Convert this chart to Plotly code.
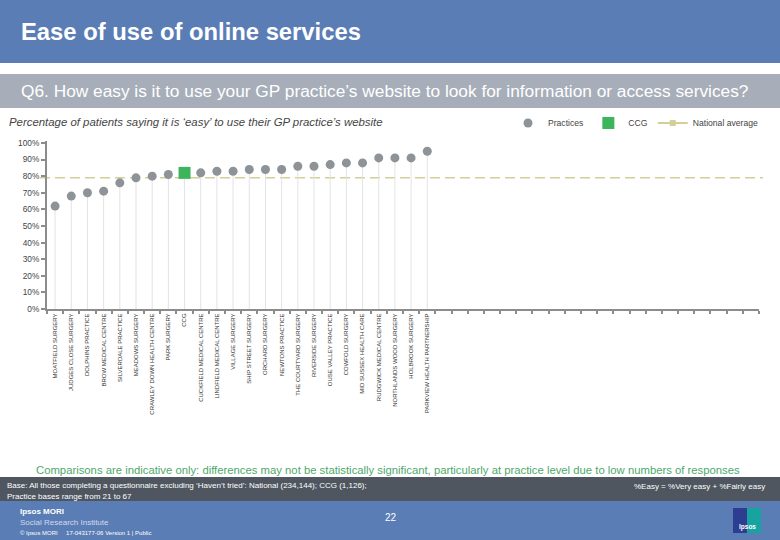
import plotly.graph_objects as go

# ---------------- data ----------------
categories = [
    "MOATFIELD SURGERY", "JUDGES CLOSE SURGERY", "DOLPHINS PRACTICE",
    "BROW MEDICAL CENTRE", "SILVERDALE PRACTICE", "MEADOWS SURGERY",
    "CRAWLEY DOWN HEALTH CENTRE", "PARK SURGERY", "CCG",
    "CUCKFIELD MEDICAL CENTRE", "LINDFIELD MEDICAL CENTRE", "VILLAGE SURGERY",
    "SHIP STREET SURGERY", "ORCHARD SURGERY", "NEWTONS PRACTICE",
    "THE COURTYARD SURGERY", "RIVERSIDE SURGERY", "OUSE VALLEY PRACTICE",
    "COWFOLD SURGERY", "MID SUSSEX HEALTH CARE", "RUDGWICK MEDICAL CENTRE",
    "NORTHLANDS WOOD SURGERY", "HOLBROOK SURGERY", "PARKVIEW HEALTH PARTNERSHIP",
]
values = [62, 68, 70, 71, 76, 79, 80, 81, 82, 82, 83, 83, 84, 84, 84,
          86, 86, 87, 88, 88, 91, 91, 91, 95]
ccg_label = "CCG"
national_average = 79
n_slots = 44  # slots on the category axis (incl. empty ones)
y_ticks = [0, 10, 20, 30, 40, 50, 60, 70, 80, 90, 100]

# ---------------- geometry helpers ----------------
W, H = 780, 540
L, R, T, B = 47, 21, 141, 231
PW, PH = W - L - R, H - T - B


def X(px):
    return (px - L) / PW


def Y(py):
    return (H - B - py) / PH


FONT = "Arial, Liberation Sans, sans-serif"

prac_idx = [i for i, c in enumerate(categories) if c != ccg_label]
ccg_idx = [i for i, c in enumerate(categories) if c == ccg_label]

fig = go.Figure()

fig.add_trace(go.Scatter(
    x=prac_idx, y=[values[i] for i in prac_idx], mode="markers",
    name="Practices",
    marker=dict(color="#8e9398", size=9),
    error_y=dict(type="data", symmetric=False,
                 array=[0] * len(prac_idx),
                 arrayminus=[values[i] for i in prac_idx],
                 color="#e3e3e3", thickness=1, width=0),
))
fig.add_trace(go.Scatter(
    x=ccg_idx, y=[values[i] for i in ccg_idx], mode="markers",
    name="CCG",
    marker=dict(color="#3cb55c", size=12, symbol="square"),
    error_y=dict(type="data", symmetric=False,
                 array=[0] * len(ccg_idx),
                 arrayminus=[values[i] for i in ccg_idx],
                 color="#e3e3e3", thickness=1, width=0),
))
# legend entry for the national average
fig.add_trace(go.Scatter(
    x=[None], y=[None], mode="lines+markers", name="National average",
    line=dict(color="#d3cf98", width=2),
    marker=dict(color="#d3cf98", size=6, symbol="square"),
))

shapes = [
    dict(type="rect", xref="paper", yref="paper", x0=X(0), x1=X(780),
         y0=Y(63), y1=Y(0), fillcolor="#5a7db5", line_width=0, layer="below"),
    dict(type="rect", xref="paper", yref="paper", x0=X(0), x1=X(780),
         y0=Y(108), y1=Y(74), fillcolor="#a7aeb9", line_width=0, layer="below"),
    dict(type="rect", xref="paper", yref="paper", x0=X(0), x1=X(780),
         y0=Y(501), y1=Y(477), fillcolor="#4f565f", line_width=0, layer="below"),
    dict(type="rect", xref="paper", yref="paper", x0=X(0), x1=X(780),
         y0=Y(540), y1=Y(501), fillcolor="#5a7db5", line_width=0, layer="below"),
    dict(type="rect", xref="paper", yref="paper", x0=X(733), x1=X(747),
         y0=Y(533), y1=Y(508), fillcolor="#2d3e91", line_width=0),
    dict(type="rect", xref="paper", yref="paper", x0=X(747), x1=X(761),
         y0=Y(533), y1=Y(508), fillcolor="#17a3a0", line_width=0),
    dict(type="line", xref="paper", yref="y", x0=X(40), x1=X(763),
         y0=national_average, y1=national_average,
         line=dict(color="#d3cf98", width=1.5, dash="10px,5px"), layer="below"),
]

annotations = [
    dict(text="<b>Ease of use of online services</b>", x=X(19), y=Y(31),
         font=dict(size=23.8, color="white", family=FONT)),
    dict(text="Q6. How easy is it to use your GP practice\u2019s website to look for information or access services?",
         x=X(19), y=Y(91), font=dict(size=17.3, color="white", family=FONT)),
    dict(text="<i>Percentage of patients saying it is \u2018easy\u2019 to use their GP practice\u2019s website</i>",
         x=X(7), y=Y(122), font=dict(size=11.4, color="#444444", family=FONT)),
    dict(text="Comparisons are indicative only: differences may not be statistically significant, particularly at practice level due to low numbers of responses",
         x=X(388), y=Y(470), xanchor="center",
         font=dict(size=11.3, color="#4ea86b", family=FONT)),
    dict(text="Base: All those completing a questionnaire excluding \u2018Haven\u2019t tried\u2019: National (234,144); CCG (1,126);",
         x=X(5), y=Y(485), font=dict(size=8, color="white", family=FONT)),
    dict(text="Practice bases range from 21 to 67",
         x=X(5), y=Y(496), font=dict(size=8, color="white", family=FONT)),
    dict(text="%Easy = %Very easy + %Fairly easy", x=X(767), y=Y(487),
         xanchor="right", font=dict(size=8, color="white", family=FONT)),
    dict(text="<b>Ipsos MORI</b>", x=X(18), y=Y(512),
         font=dict(size=8, color="white", family=FONT)),
    dict(text="Social Research Institute", x=X(18), y=Y(522),
         font=dict(size=8, color="#d0dbef", family=FONT)),
    dict(text="\u00a9 Ipsos MORI &nbsp;&nbsp;&nbsp; 17-043177-06 Version 1 | Public",
         x=X(18), y=Y(533), font=dict(size=6, color="white", family=FONT)),
    dict(text="22", x=X(391), y=Y(517), xanchor="center",
         font=dict(size=10, color="white", family=FONT)),
    dict(text="<b>Ipsos</b>", x=X(747), y=Y(527), xanchor="center",
         font=dict(size=6.5, color="white", family=FONT)),
]
for a in annotations:
    a.setdefault("xanchor", "left")
    a.update(xref="paper", yref="paper", yanchor="middle", showarrow=False)

fig.update_layout(
    width=W, height=H,
    margin=dict(l=L, r=R, t=T, b=B, pad=0),
    paper_bgcolor="white", plot_bgcolor="white",
    font=dict(family=FONT, color="#444444"),
    shapes=shapes, annotations=annotations,
    showlegend=True,
    legend=dict(orientation="h", x=X(508), y=Y(123), xanchor="left",
                yanchor="middle", font=dict(size=8.6, color="#444444"),
                bgcolor="rgba(0,0,0,0)", itemclick=False),
    xaxis=dict(
        range=[-0.5, n_slots - 0.5], tickmode="array",
        tickvals=list(range(len(categories))), ticktext=categories,
        tickangle=-90, ticks="", tickfont=dict(size=6, color="#333333"),
        showline=True, linecolor="#8c8c8c", linewidth=2,
        showgrid=False, zeroline=False, fixedrange=True,
        minor=dict(tickmode="linear", tick0=0.5, dtick=1, ticks="outside",
                   ticklen=3, tickcolor="#8c8c8c", tickwidth=1.5, showgrid=False),
    ),
    yaxis=dict(
        range=[0, 101.2], tickmode="array", tickvals=y_ticks,
        ticktext=[f"{v}%" for v in y_ticks],
        ticks="outside", ticklen=4, tickcolor="#8c8c8c", tickwidth=1.5,
        tickfont=dict(size=8.3, color="#444444"),
        showline=True, linecolor="#8c8c8c", linewidth=2,
        showgrid=False, zeroline=False, fixedrange=True,
    ),
)

fig.write_html("out.html",
               config={"displayModeBar": False},
               post_script="document.body.style.margin='0';"
                           "document.body.style.overflow='hidden';")
